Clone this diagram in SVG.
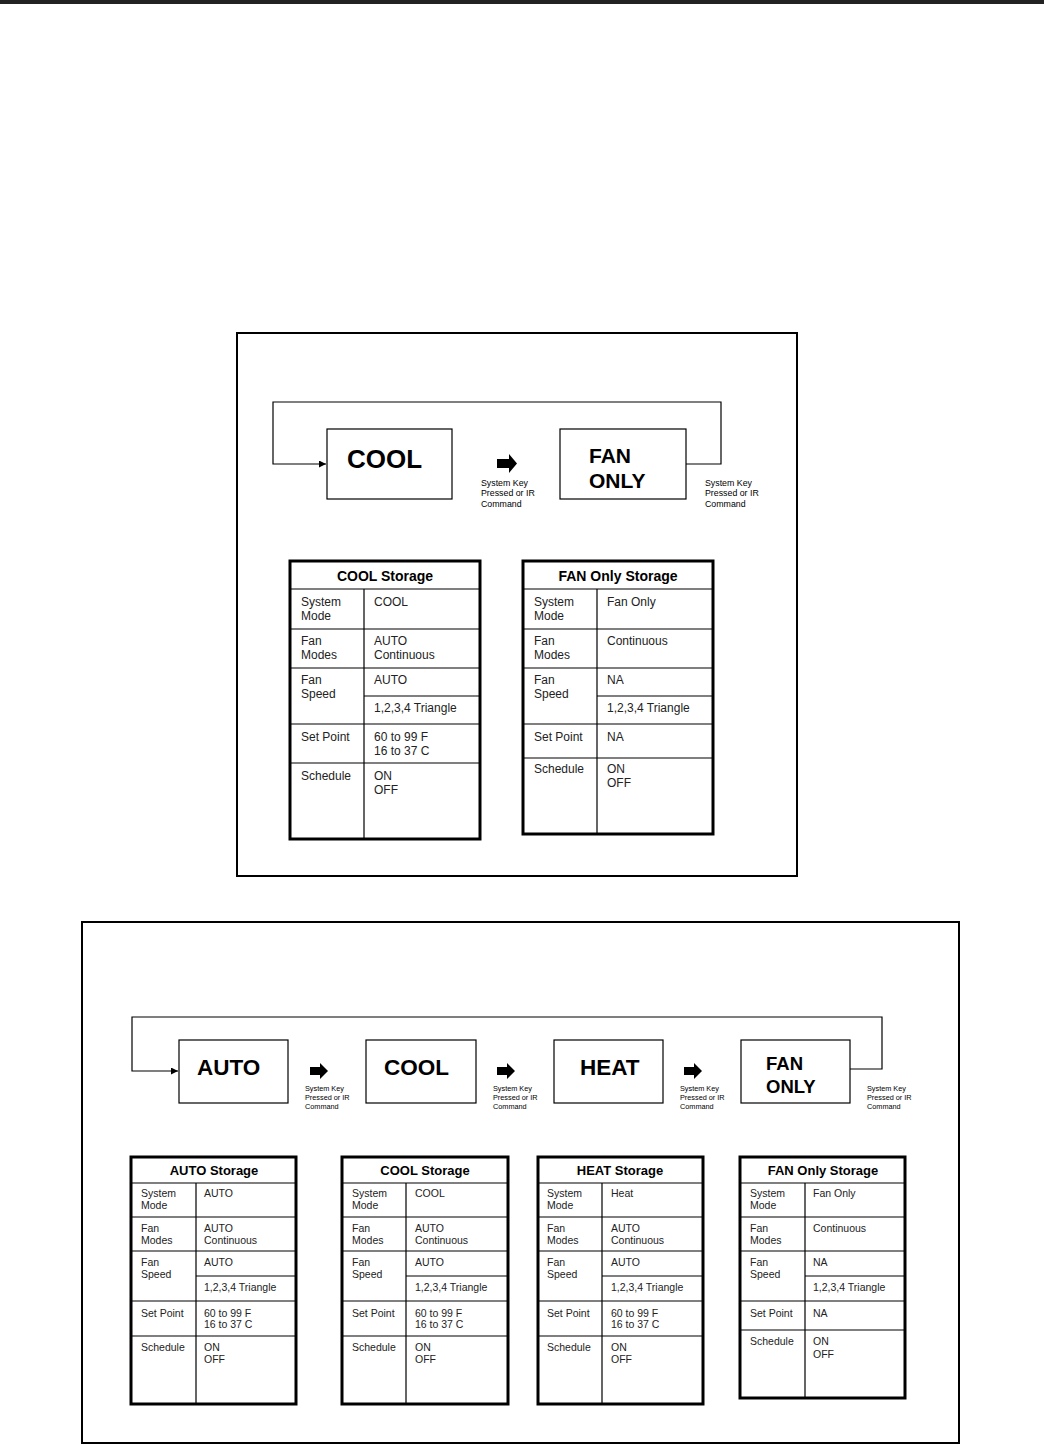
<svg xmlns="http://www.w3.org/2000/svg" width="1044" height="1445" viewBox="0 0 1044 1445">
<style>
.frame{fill:none;stroke:#000;stroke-width:2}
.box{fill:#fff;stroke:#000;stroke-width:1.2}
.line{fill:none;stroke:#000;stroke-width:1.2}
.tbl{fill:#fff;stroke:#000;stroke-width:3}
.grid{stroke:#000;stroke-width:1.2;fill:none}
.big{font-family:"Liberation Sans",Arial,sans-serif;font-weight:bold;fill:#000}
.lbl{font-family:"Liberation Sans",Arial,sans-serif;font-size:8.8px;fill:#000}
.lbl2{font-family:"Liberation Sans",Arial,sans-serif;font-size:7.3px;fill:#000}
.ttl{font-family:"Liberation Sans",Arial,sans-serif;font-weight:bold;font-size:14px;text-anchor:middle;fill:#000}
.ttl2{font-family:"Liberation Sans",Arial,sans-serif;font-weight:bold;font-size:13px;text-anchor:middle;fill:#000}
.c{font-family:"Liberation Sans",Arial,sans-serif;font-size:12px;fill:#222}
.c2{font-family:"Liberation Sans",Arial,sans-serif;font-size:10.5px;fill:#222}
.blk{fill:#000}
</style>
<defs>
<marker id="ah" viewBox="0 0 10 10" refX="10" refY="5" markerWidth="7" markerHeight="7" markerUnits="userSpaceOnUse" orient="auto">
<path d="M0,0 L10,5 L0,10 z" fill="#000"/>
</marker>
</defs>
<rect x="0" y="0" width="1044" height="4" fill="#222"/>

<!-- TOP FIGURE -->
<rect class="frame" x="237" y="333" width="560" height="543"/>
<g id="connectors-top">
<polyline class="line" points="686,464 721,464 721,402 273,402 273,464 326,464" marker-end="url(#ah)"/>
<path class="blk" d="M497,459 H509 V454 L517,463.5 L509,473 V468 H497 z"/>
<text class="lbl"><tspan x="481" y="486">System Key</tspan><tspan x="481" y="496">Pressed or IR</tspan><tspan x="481" y="507">Command</tspan></text>
<text class="lbl"><tspan x="705" y="486">System Key</tspan><tspan x="705" y="496">Pressed or IR</tspan><tspan x="705" y="507">Command</tspan></text>
</g>
<g id="node-cool-top">
<rect class="box" x="327" y="429" width="125" height="70"/>
<text class="big" x="347" y="468" font-size="26">COOL</text>
</g>
<g id="node-fan-top">
<rect class="box" x="560" y="429" width="126" height="70"/>
<text class="big" x="589" y="463" font-size="21">FAN</text>
<text class="big" x="589" y="488" font-size="21">ONLY</text>
</g>

<g id="table-cool-top">
<rect class="tbl" x="290" y="561" width="190" height="278"/>
<path class="grid" d="M290,589 H480 M290,629 H480 M290,668 H480 M364,696 H480 M290,724 H480 M290,763 H480 M364,589 V839"/>
<text class="ttl" x="385" y="581">COOL Storage</text>
<text class="c"><tspan x="301" y="606">System</tspan><tspan x="301" y="620">Mode</tspan></text>
<text class="c" x="374" y="606">COOL</text>
<text class="c"><tspan x="301" y="645">Fan</tspan><tspan x="301" y="659">Modes</tspan></text>
<text class="c"><tspan x="374" y="645">AUTO</tspan><tspan x="374" y="659">Continuous</tspan></text>
<text class="c"><tspan x="301" y="684">Fan</tspan><tspan x="301" y="698">Speed</tspan></text>
<text class="c" x="374" y="684">AUTO</text>
<text class="c" x="374" y="712">1,2,3,4 Triangle</text>
<text class="c" x="301" y="741">Set Point</text>
<text class="c"><tspan x="374" y="741">60 to 99 F</tspan><tspan x="374" y="755">16 to 37 C</tspan></text>
<text class="c" x="301" y="780">Schedule</text>
<text class="c"><tspan x="374" y="780">ON</tspan><tspan x="374" y="794">OFF</tspan></text>
</g>

<g id="table-fan-top">
<rect class="tbl" x="523" y="561" width="190" height="273"/>
<path class="grid" d="M523,589 H713 M523,629 H713 M523,668 H713 M597,696 H713 M523,724 H713 M523,758 H713 M597,589 V834"/>
<text class="ttl" x="618" y="581">FAN Only Storage</text>
<text class="c"><tspan x="534" y="606">System</tspan><tspan x="534" y="620">Mode</tspan></text>
<text class="c" x="607" y="606">Fan Only</text>
<text class="c"><tspan x="534" y="645">Fan</tspan><tspan x="534" y="659">Modes</tspan></text>
<text class="c" x="607" y="645">Continuous</text>
<text class="c"><tspan x="534" y="684">Fan</tspan><tspan x="534" y="698">Speed</tspan></text>
<text class="c" x="607" y="684">NA</text>
<text class="c" x="607" y="712">1,2,3,4 Triangle</text>
<text class="c" x="534" y="741">Set Point</text>
<text class="c" x="607" y="741">NA</text>
<text class="c" x="534" y="773">Schedule</text>
<text class="c"><tspan x="607" y="773">ON</tspan><tspan x="607" y="787">OFF</tspan></text>
</g>

<!-- BOTTOM FIGURE -->
<rect class="frame" x="82" y="922" width="877" height="521"/>
<g id="connectors-bottom">
<polyline class="line" points="850,1069 882,1069 882,1017 132,1017 132,1071 178,1071" marker-end="url(#ah)"/>
<path class="blk" d="M310,1067 H320 V1063 L328,1071 L320,1079 V1075 H310 z"/>
<path class="blk" d="M497,1067 H507 V1063 L515,1071 L507,1079 V1075 H497 z"/>
<path class="blk" d="M684,1067 H694 V1063 L702,1071 L694,1079 V1075 H684 z"/>
<text class="lbl2"><tspan x="305" y="1091">System Key</tspan><tspan x="305" y="1100">Pressed or IR</tspan><tspan x="305" y="1109">Command</tspan></text>
<text class="lbl2"><tspan x="493" y="1091">System Key</tspan><tspan x="493" y="1100">Pressed or IR</tspan><tspan x="493" y="1109">Command</tspan></text>
<text class="lbl2"><tspan x="680" y="1091">System Key</tspan><tspan x="680" y="1100">Pressed or IR</tspan><tspan x="680" y="1109">Command</tspan></text>
<text class="lbl2"><tspan x="867" y="1091">System Key</tspan><tspan x="867" y="1100">Pressed or IR</tspan><tspan x="867" y="1109">Command</tspan></text>
</g>
<g id="node-auto">
<rect class="box" x="179" y="1040" width="109" height="63"/>
<text class="big" x="197" y="1075" font-size="22.5">AUTO</text>
</g>
<g id="node-cool">
<rect class="box" x="366" y="1040" width="110" height="63"/>
<text class="big" x="384" y="1075" font-size="22.5">COOL</text>
</g>
<g id="node-heat">
<rect class="box" x="554" y="1040" width="109" height="63"/>
<text class="big" x="580" y="1075" font-size="22.5">HEAT</text>
</g>
<g id="node-fan">
<rect class="box" x="741" y="1040" width="109" height="63"/>
<text class="big" x="766" y="1070" font-size="18.5">FAN</text>
<text class="big" x="766" y="1093" font-size="18.5">ONLY</text>
</g>

<g id="table-auto">
<rect class="tbl" x="131" y="1157" width="165" height="247"/>
<path class="grid" d="M131,1183 H296 M131,1217 H296 M131,1251 H296 M196,1276 H296 M131,1301 H296 M131,1336 H296 M196,1183 V1404"/>
<text class="ttl2" x="214" y="1175">AUTO Storage</text>
<text class="c2"><tspan x="141" y="1197">System</tspan><tspan x="141" y="1209">Mode</tspan></text>
<text class="c2" x="204" y="1197">AUTO</text>
<text class="c2"><tspan x="141" y="1232">Fan</tspan><tspan x="141" y="1244">Modes</tspan></text>
<text class="c2"><tspan x="204" y="1232">AUTO</tspan><tspan x="204" y="1244">Continuous</tspan></text>
<text class="c2"><tspan x="141" y="1266">Fan</tspan><tspan x="141" y="1278">Speed</tspan></text>
<text class="c2" x="204" y="1266">AUTO</text>
<text class="c2" x="204" y="1291">1,2,3,4 Triangle</text>
<text class="c2" x="141" y="1317">Set Point</text>
<text class="c2"><tspan x="204" y="1317">60 to 99 F</tspan><tspan x="204" y="1328">16 to 37 C</tspan></text>
<text class="c2" x="141" y="1351">Schedule</text>
<text class="c2"><tspan x="204" y="1351">ON</tspan><tspan x="204" y="1363">OFF</tspan></text>
</g>

<g id="table-cool">
<rect class="tbl" x="342" y="1157" width="166" height="247"/>
<path class="grid" d="M342,1183 H508 M342,1217 H508 M342,1251 H508 M406,1276 H508 M342,1301 H508 M342,1336 H508 M406,1183 V1404"/>
<text class="ttl2" x="425" y="1175">COOL Storage</text>
<text class="c2"><tspan x="352" y="1197">System</tspan><tspan x="352" y="1209">Mode</tspan></text>
<text class="c2" x="415" y="1197">COOL</text>
<text class="c2"><tspan x="352" y="1232">Fan</tspan><tspan x="352" y="1244">Modes</tspan></text>
<text class="c2"><tspan x="415" y="1232">AUTO</tspan><tspan x="415" y="1244">Continuous</tspan></text>
<text class="c2"><tspan x="352" y="1266">Fan</tspan><tspan x="352" y="1278">Speed</tspan></text>
<text class="c2" x="415" y="1266">AUTO</text>
<text class="c2" x="415" y="1291">1,2,3,4 Triangle</text>
<text class="c2" x="352" y="1317">Set Point</text>
<text class="c2"><tspan x="415" y="1317">60 to 99 F</tspan><tspan x="415" y="1328">16 to 37 C</tspan></text>
<text class="c2" x="352" y="1351">Schedule</text>
<text class="c2"><tspan x="415" y="1351">ON</tspan><tspan x="415" y="1363">OFF</tspan></text>
</g>

<g id="table-heat">
<rect class="tbl" x="538" y="1157" width="165" height="247"/>
<path class="grid" d="M538,1183 H703 M538,1217 H703 M538,1251 H703 M602,1276 H703 M538,1301 H703 M538,1336 H703 M602,1183 V1404"/>
<text class="ttl2" x="620" y="1175">HEAT Storage</text>
<text class="c2"><tspan x="547" y="1197">System</tspan><tspan x="547" y="1209">Mode</tspan></text>
<text class="c2" x="611" y="1197">Heat</text>
<text class="c2"><tspan x="547" y="1232">Fan</tspan><tspan x="547" y="1244">Modes</tspan></text>
<text class="c2"><tspan x="611" y="1232">AUTO</tspan><tspan x="611" y="1244">Continuous</tspan></text>
<text class="c2"><tspan x="547" y="1266">Fan</tspan><tspan x="547" y="1278">Speed</tspan></text>
<text class="c2" x="611" y="1266">AUTO</text>
<text class="c2" x="611" y="1291">1,2,3,4 Triangle</text>
<text class="c2" x="547" y="1317">Set Point</text>
<text class="c2"><tspan x="611" y="1317">60 to 99 F</tspan><tspan x="611" y="1328">16 to 37 C</tspan></text>
<text class="c2" x="547" y="1351">Schedule</text>
<text class="c2"><tspan x="611" y="1351">ON</tspan><tspan x="611" y="1363">OFF</tspan></text>
</g>

<g id="table-fan">
<rect class="tbl" x="740" y="1157" width="165" height="241"/>
<path class="grid" d="M740,1183 H905 M740,1217 H905 M740,1251 H905 M805,1276 H905 M740,1301 H905 M740,1330 H905 M805,1183 V1398"/>
<text class="ttl2" x="823" y="1175">FAN Only Storage</text>
<text class="c2"><tspan x="750" y="1197">System</tspan><tspan x="750" y="1209">Mode</tspan></text>
<text class="c2" x="813" y="1197">Fan Only</text>
<text class="c2"><tspan x="750" y="1232">Fan</tspan><tspan x="750" y="1244">Modes</tspan></text>
<text class="c2" x="813" y="1232">Continuous</text>
<text class="c2"><tspan x="750" y="1266">Fan</tspan><tspan x="750" y="1278">Speed</tspan></text>
<text class="c2" x="813" y="1266">NA</text>
<text class="c2" x="813" y="1291">1,2,3,4 Triangle</text>
<text class="c2" x="750" y="1317">Set Point</text>
<text class="c2" x="813" y="1317">NA</text>
<text class="c2" x="750" y="1345">Schedule</text>
<text class="c2"><tspan x="813" y="1345">ON</tspan><tspan x="813" y="1358">OFF</tspan></text>
</g>
</svg>
